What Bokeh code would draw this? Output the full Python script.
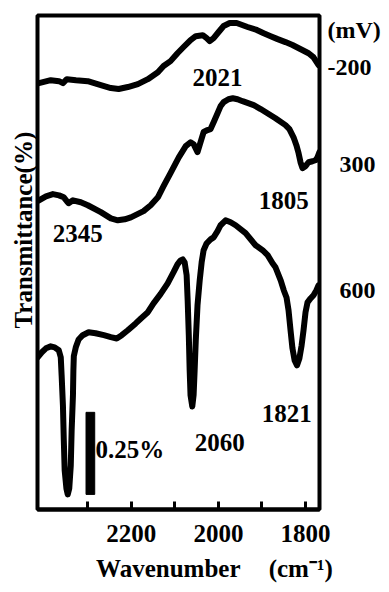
import numpy as np
from bokeh.plotting import figure
from bokeh.models import Range1d, FixedTicker, Label, LinearAxis, Title
from bokeh.embed import file_html
from bokeh.resources import INLINE

# ---- data (wavenumber in cm-1, transmittance in %, curves offset vertically) ----
wn_m200 = [2412, 2385, 2366, 2357, 2348, 2327, 2300, 2270, 2247, 2229, 2208, 2185, 2162,
           2139, 2126, 2110, 2094, 2080, 2064, 2052, 2036, 2027, 2020, 2011, 2000, 1988,
           1974, 1958, 1933, 1912, 1896, 1880, 1864, 1846, 1830, 1812, 1793, 1782, 1770]
t_m200 = [1.308, 1.317, 1.314, 1.308, 1.320, 1.317, 1.314, 1.302, 1.293, 1.290, 1.296, 1.305, 1.320,
          1.341, 1.360, 1.375, 1.399, 1.418, 1.439, 1.451, 1.454, 1.445, 1.436, 1.445, 1.463, 1.482,
          1.491, 1.491, 1.479, 1.470, 1.460, 1.451, 1.442, 1.433, 1.424, 1.412, 1.399, 1.387, 1.363]

wn_300 = [2412, 2396, 2380, 2366, 2355, 2348, 2344, 2334, 2316, 2300, 2270, 2247, 2231, 2215,
          2201, 2172, 2155.5, 2139, 2126, 2110, 2091, 2075, 2064, 2057, 2048, 2041, 2034, 2025,
          2018, 2011, 2002, 1995, 1988, 1977, 1967, 1956, 1944.5, 1919, 1903, 1892, 1869, 1846,
          1837, 1827.5, 1821, 1816, 1811.5, 1807, 1800, 1793, 1784, 1777, 1772.5, 1768]
t_300 = [0.951, 0.963, 0.970, 0.966, 0.960, 0.948, 0.942, 0.951, 0.945, 0.936, 0.915, 0.896, 0.890, 0.893,
         0.899, 0.918, 0.936, 0.960, 0.994, 1.034, 1.082, 1.116, 1.128, 1.122, 1.098, 1.128, 1.159, 1.165,
         1.168, 1.189, 1.216, 1.238, 1.250, 1.259, 1.262, 1.259, 1.253, 1.241, 1.229, 1.220, 1.201, 1.180,
         1.168, 1.143, 1.119, 1.095, 1.067, 1.049, 1.055, 1.067, 1.070, 1.073, 1.082, 1.098]

wn_600 = [2415, 2405.5, 2396, 2385, 2376, 2366.5, 2362, 2360, 2357, 2355, 2353, 2349, 2346, 2342.5,
          2339, 2337, 2334, 2333, 2332, 2327.5, 2321, 2311.5, 2298, 2282, 2263, 2247, 2233.5, 2222,
          2208, 2190, 2178, 2162, 2149, 2133, 2116.5, 2103, 2094, 2087, 2082, 2077.5, 2073, 2070.6,
          2068, 2066, 2064, 2060, 2057, 2054.6, 2052, 2048, 2043, 2038.5, 2034, 2027, 2018, 2011,
          2002, 1995, 1983.5, 1972, 1960.5, 1937.6, 1914.7, 1898.6, 1887, 1875.7, 1869, 1857, 1850,
          1843.6, 1839, 1834.4, 1830, 1825, 1819.5, 1814, 1809, 1804.6, 1800, 1795.4, 1788.5, 1781.6,
          1775, 1770]
t_600 = [0.473, 0.488, 0.500, 0.506, 0.503, 0.494, 0.473, 0.418, 0.326, 0.220, 0.128, 0.073, 0.055, 0.073,
         0.143, 0.250, 0.357, 0.433, 0.476, 0.503, 0.527, 0.540, 0.549, 0.546, 0.540, 0.534, 0.530, 0.540,
         0.555, 0.576, 0.591, 0.610, 0.637, 0.665, 0.698, 0.732, 0.756, 0.768, 0.771, 0.762, 0.723, 0.646,
         0.540, 0.433, 0.357, 0.323, 0.357, 0.433, 0.524, 0.631, 0.707, 0.762, 0.799, 0.820, 0.832, 0.838,
         0.857, 0.875, 0.890, 0.884, 0.875, 0.851, 0.814, 0.799, 0.784, 0.759, 0.747, 0.707, 0.677,
         0.655, 0.616, 0.555, 0.500, 0.463, 0.448, 0.470, 0.509, 0.555, 0.610, 0.640, 0.652, 0.662,
         0.677, 0.692]

tick_values = [2300, 2200, 2100, 2000, 1900, 1800]
tick_labels = {2300: "", 2200: "2200", 2100: "", 2000: "2000", 1900: "", 1800: "1800"}

potential_pos = [1.470, 1.357, 1.061, 0.677]
potential_labels = ["(mV)", "-200", "\u2007300", "\u2007600"]
peak_labels = ["2021", "1805", "2345", "2060", "1821"]
scale_bar_pct = 0.25

FONT = "Liberation Serif"
FS = "25px"

p = figure(width=389, height=592, output_backend="svg", toolbar_location=None,
           x_range=Range1d(2415.4, 1767.9), y_range=Range1d(0.009, 1.514),
           min_border_left=37, min_border_right=70, min_border_top=15, min_border_bottom=83,
           y_axis_location=None)
p.title.visible = False

p.outline_line_color = "black"
p.outline_line_width = 4
p.grid.visible = False
p.background_fill_color = "white"
p.border_fill_color = "white"


def style_text_axis(a, size=FS):
    a.axis_line_color = None
    a.major_tick_line_color = None
    a.minor_tick_line_color = None
    a.major_tick_out = 0
    a.major_tick_in = 0
    a.major_label_text_font = FONT
    a.major_label_text_font_style = "bold"
    a.major_label_text_font_size = size
    a.major_label_text_color = "black"


ax = p.xaxis[0]
ax.ticker = FixedTicker(ticks=tick_values)
ax.major_label_overrides = tick_labels
ax.axis_line_width = 4
ax.major_tick_in = 8
ax.major_tick_out = 0
ax.major_tick_line_width = 3
ax.minor_tick_line_color = None
ax.major_label_text_font = FONT
ax.major_label_text_font_style = "bold"
ax.major_label_text_font_size = FS
ax.major_label_text_color = "black"
ax.major_label_standoff = 15

# x title as second bottom axis
title_axis = LinearAxis(ticker=FixedTicker(ticks=[2115, 1811]),
                        major_label_overrides={2115: "Wavenumber", 1811: "(cm\u207b\u00b9)"})
style_text_axis(title_axis)
title_axis.major_label_standoff = 10
p.add_layout(title_axis, "below")

# y title on the left, starting at a fixed height above the frame bottom
ytitle = Title(text="Transmittance(%)", align="left", offset=181, standoff=2,
               text_font=FONT, text_font_style="bold", text_font_size=FS,
               text_color="black")
p.add_layout(ytitle, "left")

# potentials on the right
pot_axis = LinearAxis(ticker=FixedTicker(ticks=potential_pos),
                      major_label_overrides=dict(zip(potential_pos, potential_labels)))
style_text_axis(pot_axis, "24px")
pot_axis.major_label_standoff = 8
p.add_layout(pot_axis, "right")

for xs, ys in [(wn_m200, t_m200), (wn_300, t_300), (wn_600, t_600)]:
    p.line(xs, ys, line_color="black", line_width=6, line_join="round", line_cap="round")

# 0.25 % scale bar
p.vbar(x=[2294], width=20, bottom=[0.055], top=[0.055 + scale_bar_pct], color="black")


def lab(x, y, text, align="center"):
    p.add_layout(Label(x=x, y=y, text=text, text_font=FONT, text_font_style="bold",
                       text_font_size=FS, text_color="black", text_align=align,
                       text_baseline="middle"))


lab(2002, 1.326, peak_labels[0])
lab(1850, 0.951, peak_labels[1])
lab(2323, 0.851, peak_labels[2])
lab(1997, 0.213, peak_labels[3])
lab(1843, 0.302, peak_labels[4])
lab(2282, 0.192, "0.25%", align="left")

open("out.html", "w").write(file_html(p, INLINE))
